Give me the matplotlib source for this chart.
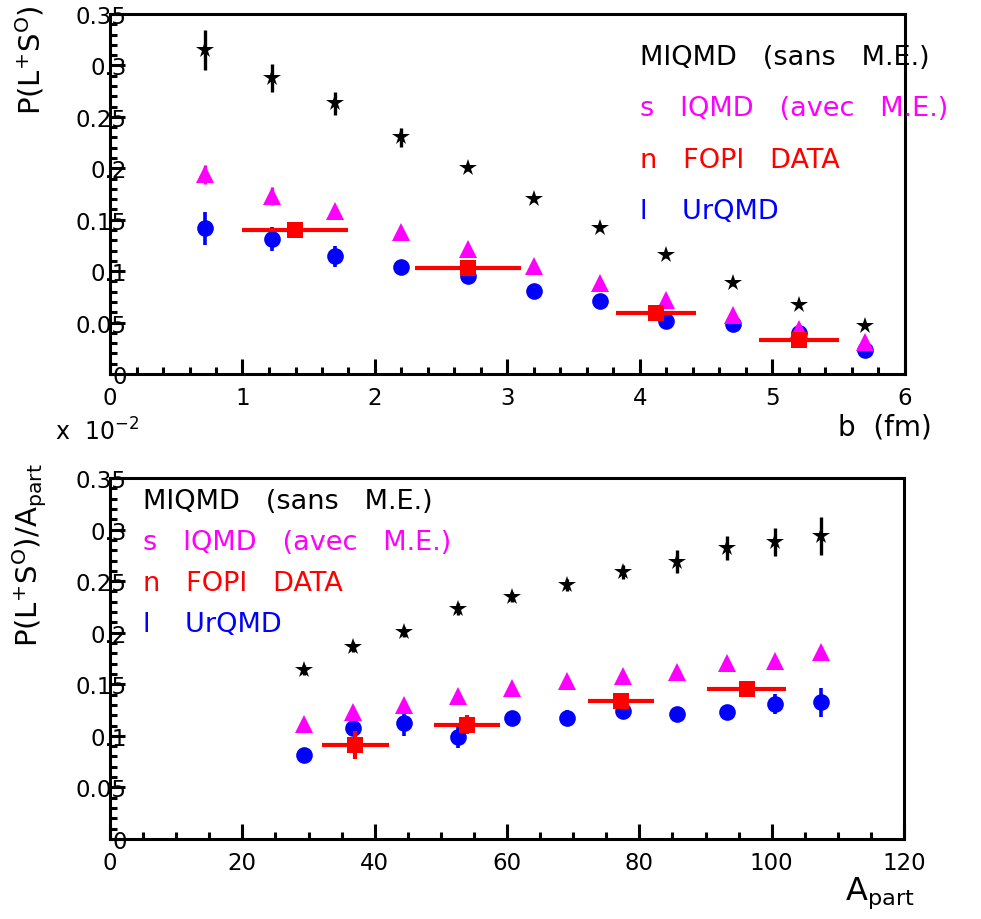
import matplotlib
matplotlib.use("Agg")
import matplotlib.pyplot as plt
from matplotlib.ticker import MultipleLocator, FixedLocator, FixedFormatter

plt.rcParams['font.family'] = ['DejaVu Sans']

# ---------------- data: top panel (vs impact parameter b) ----------------
b_model = [0.72, 1.22, 1.70, 2.20, 2.70, 3.20, 3.70, 4.20, 4.70, 5.20, 5.70]
miqmd_b = [0.315, 0.288, 0.263, 0.230, 0.200, 0.170, 0.142, 0.116, 0.0885, 0.0674, 0.047]
miqmd_b_err = [0.0195, 0.0135, 0.011, 0.0095, 0.003, 0.003, 0.003, 0.003, 0.003, 0.002, 0.002]
iqmd_b = [0.194, 0.173, 0.158, 0.138, 0.1215, 0.1047, 0.0882, 0.0722, 0.0577, 0.0437, 0.0314]
iqmd_b_err = [0.0095, 0.0085, 0.004, 0.003, 0.003, 0.002, 0.002, 0.002, 0.002, 0.002, 0.002]
urqmd_b = [0.1419, 0.1312, 0.1144, 0.1037, 0.0956, 0.081, 0.0707, 0.0518, 0.0486, 0.0396, 0.0233]
urqmd_b_err = [0.016, 0.012, 0.010, 0.005, 0.004, 0.003, 0.003, 0.003, 0.003, 0.003, 0.003]
fopi_b = [1.40, 2.70, 4.12, 5.20]
fopi_b_xerr = [0.40, 0.40, 0.30, 0.30]
fopi_b_val = [0.140, 0.1028, 0.0593, 0.0333]
fopi_b_err = [0.004, 0.004, 0.003, 0.003]

# ---------------- data: bottom panel (vs A_part) ----------------
a_model = [29.3, 36.7, 44.4, 52.6, 60.8, 69.0, 77.5, 85.7, 93.3, 100.5, 107.4]
miqmd_a = [0.1639, 0.1859, 0.2004, 0.223, 0.2343, 0.2463, 0.2586, 0.2689, 0.2818, 0.2877, 0.2941]
miqmd_a_err = [0.005, 0.005, 0.005, 0.006, 0.005, 0.006, 0.007, 0.0114, 0.0115, 0.0135, 0.0185]
iqmd_a = [0.1115, 0.1228, 0.1299, 0.1384, 0.1461, 0.1529, 0.1583, 0.1616, 0.1704, 0.1723, 0.1816]
iqmd_a_err = [0.003, 0.003, 0.003, 0.003, 0.003, 0.003, 0.003, 0.003, 0.003, 0.005, 0.006]
urqmd_a = [0.0817, 0.1073, 0.1122, 0.0992, 0.117, 0.1173, 0.1238, 0.1212, 0.1234, 0.1309, 0.1325]
urqmd_a_err = [0.005, 0.004, 0.012, 0.011, 0.004, 0.008, 0.006, 0.007, 0.007, 0.010, 0.014]
fopi_a = [37.1, 53.9, 77.2, 96.2]
fopi_a_xerr = [5.0, 5.0, 5.0, 6.0]
fopi_a_val = [0.0914, 0.1108, 0.1335, 0.1454]
fopi_a_err = [0.0135, 0.009, 0.004, 0.004]

legend_labels = ["MIQMD   (sans   M.E.)", "s   IQMD   (avec   M.E.)", "n   FOPI   DATA", "l    UrQMD"]
legend_colors = ["black", "#ff00ff", "#ff0000", "#0000ff"]

y_ticks = [0, 0.05, 0.1, 0.15, 0.2, 0.25, 0.3, 0.35]
y_ticklabels = ["0", "0.05", "0.1", "0.15", "0.2", "0.25", "0.3", "0.35"]

W, H = 981, 920
fig = plt.figure(figsize=(W / 100, H / 100), dpi=100)


def px_axes(x0, y0, x1, y1):
    return fig.add_axes([x0 / W, 1 - y1 / H, (x1 - x0) / W, (y1 - y0) / H])


ax1 = px_axes(110, 15, 905, 375)
ax2 = px_axes(110, 479, 904, 840)


def style(ax, xmax, xmaj, xmin):
    ax.set_ylim(0, 0.35)
    ax.set_xlim(0, xmax)
    for s in ax.spines.values():
        s.set_linewidth(2.2)
    ax.xaxis.set_major_locator(MultipleLocator(xmaj))
    ax.xaxis.set_minor_locator(MultipleLocator(xmin))
    ax.yaxis.set_major_locator(FixedLocator(y_ticks))
    ax.yaxis.set_major_formatter(FixedFormatter(y_ticklabels))
    ax.yaxis.set_minor_locator(MultipleLocator(0.01))
    ax.tick_params(which='both', direction='in', top=False, right=False, width=2.2, color='black')
    ax.tick_params(which='major', length=11)
    ax.tick_params(which='minor', length=5)
    ax.tick_params(axis='y', which='major', pad=-12, labelsize=16.5)
    ax.tick_params(axis='x', which='major', pad=9, labelsize=16.5)
    for lab in ax.get_yticklabels():
        lab.set_zorder(0)


style(ax1, 6, 1, 0.2)
style(ax2, 120, 20, 5)


def draw(ax, xm, m1, e1, m2, e2, m3, e3, xf, xfe, vf, ef):
    ax.errorbar(xm, m1, yerr=e1, fmt='*', color='black', ms=13, mew=0,
                elinewidth=2.4, capsize=0, zorder=3)
    ax.errorbar(xm, m3, yerr=e3, fmt='o', color='#0000ff', ms=12, mew=0,
                elinewidth=2.6, capsize=0, zorder=4)
    ax.errorbar(xm, m2, yerr=e2, fmt='^', color='#ff00ff', ms=12.5, mew=0,
                elinewidth=2.4, capsize=0, zorder=5)
    ax.errorbar(xf, vf, xerr=xfe, yerr=ef, fmt='s', color='#ff0000', ms=11.5, mew=0,
                elinewidth=3.0, capsize=0, zorder=6)


draw(ax1, b_model, miqmd_b, miqmd_b_err, iqmd_b, iqmd_b_err, urqmd_b, urqmd_b_err,
     fopi_b, fopi_b_xerr, fopi_b_val, fopi_b_err)
draw(ax2, a_model, miqmd_a, miqmd_a_err, iqmd_a, iqmd_a_err, urqmd_a, urqmd_a_err,
     fopi_a, fopi_a_xerr, fopi_a_val, fopi_a_err)

# legends as plain coloured text
for i, (t, c) in enumerate(zip(legend_labels, legend_colors)):
    fig.text(640 / W, 1 - (58 + 51.5 * i) / H, t, color=c, fontsize=19.5,
             ha='left', va='center')
    fig.text(143 / W, 1 - (502 + 41 * i) / H, t, color=c, fontsize=19.5,
             ha='left', va='center')

# axis titles
fig.text(30 / W, 1 - 60 / H, r"P(L$^{\mathregular{+}}$S$^{\mathregular{O}}$)",
         rotation=90, ha='center', va='center', fontsize=21)
fig.text(30 / W, 1 - 555 / H,
         r"P(L$^{\mathregular{+}}$S$^{\mathregular{O}}$)/A$_{\mathregular{part}}$",
         rotation=90, ha='center', va='center', fontsize=21)
fig.text(885 / W, 1 - 428 / H, "b  (fm)", ha='center', va='center', fontsize=20)
fig.text(880 / W, 1 - 893 / H, r"A$_{\mathregular{part}}$", ha='center', va='center',
         fontsize=23)
fig.text(55 / W, 1 - 432 / H, r"x  10$^{\mathregular{-2}}$", ha='left', va='center',
         fontsize=17)

fig.savefig("out.png", dpi=100)
